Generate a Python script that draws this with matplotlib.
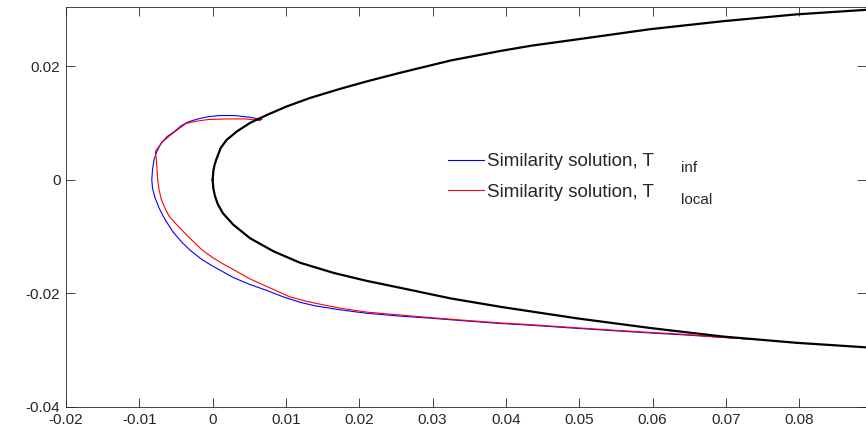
import matplotlib
matplotlib.use("Agg")
import matplotlib.pyplot as plt
from matplotlib.lines import Line2D

plt.rcParams['font.family'] = ['Liberation Sans', 'DejaVu Sans']

# Airfoil leading edge, upper surface
body_up_x = [0.0, 0.00009, 0.00024, 0.00048, 0.0011, 0.0019, 0.0033, 0.0051, 0.0074,
             0.0101, 0.0133, 0.0174, 0.0210, 0.0255, 0.0325, 0.0394, 0.0435,
             0.0497, 0.0597, 0.0696, 0.0796, 0.0891]
body_up_y = [0.0, 0.0015, 0.0025, 0.0035, 0.0056, 0.0070, 0.0085, 0.0100, 0.0114,
             0.0129, 0.0144, 0.0160, 0.0173, 0.0188, 0.0210, 0.0227, 0.0236,
             0.0247, 0.0265, 0.0279, 0.0291, 0.0299]
# Airfoil leading edge, lower surface
body_lo_x = [0.0, 0.00009, 0.00032, 0.0007, 0.0014, 0.0028, 0.0051, 0.0083, 0.0119,
             0.0165, 0.0210, 0.0255, 0.0325, 0.0394, 0.0497, 0.0597, 0.0643,
             0.0696, 0.0796, 0.0891]
body_lo_y = [0.0, -0.0015, -0.0029, -0.0043, -0.0059, -0.0079, -0.0103, -0.0126, -0.0146,
             -0.0164, -0.0178, -0.0190, -0.0209, -0.0224, -0.0244, -0.0261, -0.0268,
             -0.0276, -0.0287, -0.0295]

# Similarity solution, T_inf (blue)
tinf_x = [0.0067, 0.0050, 0.0030, 0.0010, -0.0006, -0.0020, -0.0033, -0.0043,
          -0.0052, -0.0062, -0.0070, -0.0076, -0.0080, -0.0082, -0.0083, -0.0082,
          -0.0079, -0.0073, -0.0065, -0.0054, -0.0042, -0.0030, -0.0015, 0.0000,
          0.0014, 0.0028, 0.0050, 0.0074, 0.0096, 0.0120, 0.0140, 0.0174,
          0.0210, 0.0255, 0.0300, 0.0340, 0.0392, 0.0433, 0.0490, 0.0550,
          0.0600, 0.0642, 0.0690, 0.0740]
tinf_y = [0.0106, 0.0110, 0.0113, 0.0113, 0.0111, 0.0107, 0.0102, 0.0095,
          0.0085, 0.0076, 0.0065, 0.0050, 0.0035, 0.0018, 0.0000, -0.0015,
          -0.0030, -0.0050, -0.0070, -0.0092, -0.0110, -0.0125, -0.0140, -0.0152,
          -0.0162, -0.0172, -0.0184, -0.0195, -0.0206, -0.0216, -0.0222, -0.0229,
          -0.0235, -0.0240, -0.0244, -0.0248, -0.0253, -0.0256, -0.0261, -0.0266,
          -0.0270, -0.0273, -0.0277, -0.0281]

# Similarity solution, T_local (red)
tloc_x = [0.0065, 0.0045, 0.0020, -0.0006, -0.0022, -0.0036, -0.0048, -0.0058,
          -0.0068, -0.0076, -0.0078, -0.0078, -0.0077, -0.0076, -0.0075, -0.0073,
          -0.0070, -0.0065, -0.0059, -0.0052, -0.0044, -0.0031, -0.0015, 0.0000,
          0.0014, 0.0028, 0.0050, 0.0074, 0.0105, 0.0128, 0.0150, 0.0174,
          0.0210, 0.0255, 0.0300, 0.0340, 0.0392, 0.0433, 0.0490, 0.0550,
          0.0600, 0.0642, 0.0690, 0.0740]
tloc_y = [0.0104, 0.0107, 0.0107, 0.0106, 0.0103, 0.0099, 0.0088, 0.0078,
          0.0067, 0.0054, 0.0050, 0.0045, 0.0038, 0.0020, 0.0000, -0.0018,
          -0.0035, -0.0050, -0.0065, -0.0075, -0.0086, -0.0103, -0.0123, -0.0137,
          -0.0148, -0.0158, -0.0174, -0.0188, -0.0206, -0.0214, -0.0220, -0.0226,
          -0.0233, -0.0238, -0.0243, -0.0247, -0.0252, -0.0255, -0.0260, -0.0265,
          -0.0269, -0.0272, -0.0277, -0.0281]

x_ticks = [-0.02, -0.01, 0, 0.01, 0.02, 0.03, 0.04, 0.05, 0.06, 0.07, 0.08]
x_labels = ['-0.02', '-0.01', '0', '0.01', '0.02', '0.03', '0.04', '0.05', '0.06', '0.07', '0.08']
y_ticks = [-0.04, -0.02, 0, 0.02]
y_labels = ['-0.04', '-0.02', '0', '0.02']

legend_labels = ['Similarity solution, T', 'Similarity solution, T']
subscripts = ['inf', 'local']

W, H = 866, 443
fig = plt.figure(figsize=(W / 100, H / 100), dpi=100)
ax = fig.add_axes([66 / W, (H - 407) / H, (W - 66) / W, 400 / H])

ax.plot(tinf_x, tinf_y, color='#0000ff', lw=0.8, solid_joinstyle='round')
ax.plot(tloc_x, tloc_y, color='#ff0000', lw=0.8, solid_joinstyle='round')
ax.plot(body_up_x, body_up_y, color='black', lw=1.6, solid_joinstyle='round')
ax.plot(body_lo_x, body_lo_y, color='black', lw=1.6, solid_joinstyle='round')

ax.set_xlim(-0.02, 0.0891)
ax.set_ylim(-0.04, 0.0304)
ax.set_xticks(x_ticks)
ax.set_xticklabels(x_labels)
ax.set_yticks(y_ticks)
ax.set_yticklabels(y_labels)
ax.tick_params(direction='in', length=6.5, width=0.6, color='#262626',
               labelsize=11, top=True, right=True, labelcolor='#262626', pad=4)
for s in ax.spines.values():
    s.set_color('#262626')
    s.set_linewidth(0.6)

handles = [Line2D([], [], color='#0000ff', lw=0.8), Line2D([], [], color='#ff0000', lw=0.8)]
leg = ax.legend(handles, legend_labels, frameon=False, fontsize=13.5,
                loc='upper left', bbox_to_anchor=(448 / W, 1 - 153 / H),
                bbox_transform=fig.transFigure, borderpad=0, borderaxespad=0,
                handlelength=1.9, handletextpad=0.2, labelspacing=0.71)
for t in leg.get_texts():
    t.set_color('#262626')

fig.text(681 / W, 1 - 168 / H, subscripts[0], fontsize=11, color='#262626',
         ha='left', va='center')
fig.text(681 / W, 1 - 200 / H, subscripts[1], fontsize=11, color='#262626',
         ha='left', va='center')

fig.savefig('out.png', dpi=100)
